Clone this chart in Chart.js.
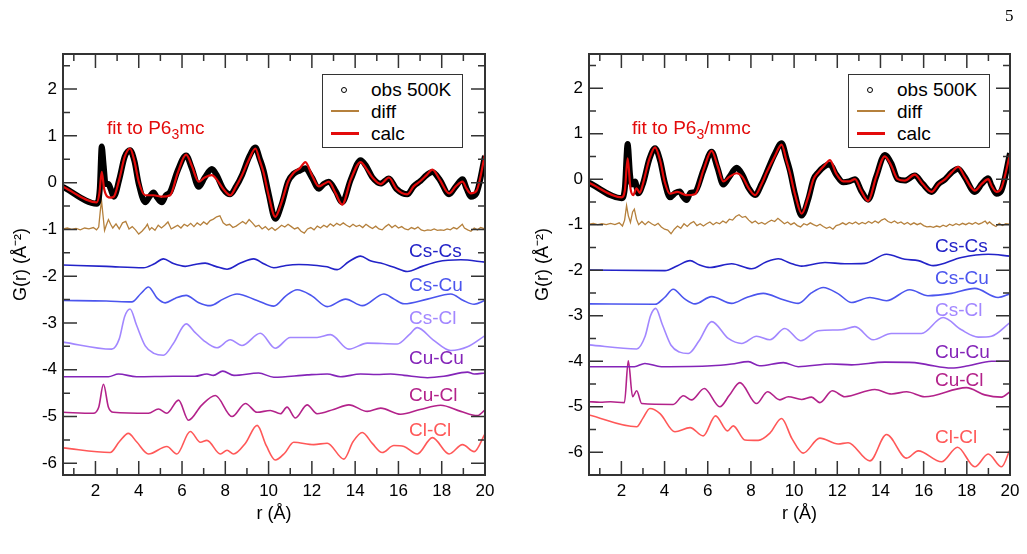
<!DOCTYPE html>
<html>
<head>
<meta charset="utf-8">
<script src="https://cdn.jsdelivr.net/npm/chart.js@4.4.1/dist/chart.umd.min.js"></script>
<style>
  body { margin: 0; background: #fff; width: 1027px; height: 554px; position: relative; overflow: hidden;
         font-family: "Liberation Sans", Arial, Helvetica, sans-serif; }
  canvas { position: absolute; top: 0; }
  .lbl { position: absolute; font-size: 19px; line-height: 20px; white-space: nowrap; }
  .legend { position: absolute; top: 74px; height: 74px; border: 1.5px solid #333; box-sizing: border-box; background: #fff; }
  .mark { position: absolute; }
  sub { font-size: 14px; vertical-align: -5px; line-height: 0; }
  .page { position: absolute; left: 1005px; top: 6px; font-family: "Liberation Serif", "DejaVu Serif", serif; font-size: 17px; }
</style>
</head>
<body>
<canvas id="left" width="513" height="554" style="left:0"></canvas>
<canvas id="right" width="514" height="554" style="left:513px"></canvas>
<div class="page">5</div>

<script>
// r (Å), G(r) pairs

// ---- left panel: fit to P6_3mc ----
const leftObs = [[0.5,-0.09],[2.06,-0.45],[2.2,-0.13],[2.29,0.77],[2.37,0.41],[2.47,-0.03],[2.6,-0.03],[2.7,-0.13],[2.85,-0.30],[3.1,0.07],[3.35,0.55],[3.6,0.69],[3.8,0.46],[4.0,-0.03],[4.3,-0.42],[4.5,-0.30],[4.68,-0.21],[4.85,-0.32],[5.07,-0.42],[5.25,-0.27],[5.45,-0.20],[5.8,0.26],[6.19,0.58],[6.45,0.31],[6.77,-0.09],[7.05,0.11],[7.38,0.29],[7.6,0.16],[7.9,-0.13],[8.23,-0.25],[8.5,-0.08],[8.77,0.16],[9.1,0.55],[9.39,0.75],[9.6,0.50],[9.77,0.26],[10.0,-0.23],[10.31,-0.77],[10.6,-0.47],[10.9,0.02],[11.16,0.19],[11.45,0.26],[11.7,0.31],[12.0,0.11],[12.32,-0.13],[12.55,-0.03],[12.78,0.02],[13.1,-0.18],[13.4,-0.42],[13.8,0.07],[14.25,0.48],[14.5,0.36],[14.8,0.11],[15.18,-0.02],[15.56,0.09],[15.9,-0.13],[16.41,-0.25],[16.7,-0.08],[17.03,0.04],[17.3,0.16],[17.57,0.23],[17.9,0.07],[18.34,-0.25],[18.65,-0.08],[18.96,0.07],[19.15,-0.13],[19.34,-0.30],[19.6,-0.23],[20.0,0.57]];
const leftCalc = [[0.5,-0.09],[2.06,-0.42],[2.18,-0.23],[2.29,0.23],[2.4,-0.13],[2.55,-0.30],[2.7,-0.32],[2.85,-0.30],[3.1,0.07],[3.35,0.55],[3.6,0.73],[3.8,0.46],[4.0,0.02],[4.3,-0.27],[4.68,-0.27],[5.07,-0.30],[5.45,-0.27],[5.8,0.21],[6.19,0.60],[6.45,0.36],[6.77,0.02],[7.05,0.11],[7.38,0.16],[7.6,0.07],[7.9,-0.13],[8.23,-0.27],[8.5,-0.08],[8.77,0.16],[9.1,0.50],[9.39,0.73],[9.6,0.46],[9.77,0.21],[10.0,-0.27],[10.31,-0.73],[10.6,-0.42],[10.9,0.02],[11.16,0.21],[11.45,0.31],[11.7,0.44],[12.0,0.16],[12.32,-0.08],[12.55,-0.03],[12.78,0.02],[13.1,-0.23],[13.4,-0.47],[13.8,0.07],[14.25,0.44],[14.5,0.31],[14.8,0.11],[15.18,-0.03],[15.56,0.11],[15.9,-0.13],[16.41,-0.25],[16.7,-0.08],[17.03,0.04],[17.3,0.16],[17.57,0.28],[17.9,0.07],[18.34,-0.23],[18.65,-0.08],[18.96,0.02],[19.15,-0.13],[19.34,-0.23],[19.6,-0.18],[20.0,0.60]];
const leftDiff = [[0.5,-0.99],[0.7,-0.97],[0.9,-1.0],[1.1,-0.98],[1.3,-1.01],[1.5,-0.97],[1.7,-0.99],[1.9,-0.96],[2.05,-1.01],[2.15,-0.95],[2.22,-0.62],[2.28,-0.38],[2.34,-0.66],[2.42,-1.02],[2.5,-0.91],[2.6,-0.79],[2.7,-0.89],[2.8,-0.97],[2.95,-0.88],[3.1,-0.99],[3.25,-0.86],[3.4,-0.83],[3.55,-0.99],[3.7,-0.94],[3.85,-1.01],[4.0,-1.1],[4.15,-1.04],[4.3,-0.96],[4.4,-0.89],[4.5,-1.01],[4.6,-0.96],[4.75,-1.02],[4.9,-0.91],[5.05,-0.97],[5.2,-0.91],[5.35,-0.84],[5.5,-0.99],[5.65,-0.95],[5.8,-0.91],[5.95,-0.97],[6.1,-0.89],[6.25,-0.93],[6.4,-0.87],[6.55,-0.94],[6.7,-0.86],[6.85,-0.91],[7.0,-0.84],[7.15,-0.89],[7.3,-0.81],[7.45,-0.78],[7.6,-0.73],[7.75,-0.71],[7.9,-0.86],[8.05,-0.91],[8.2,-0.89],[8.35,-0.96],[8.5,-0.93],[8.65,-0.88],[8.8,-0.83],[8.95,-0.88],[9.1,-0.79],[9.25,-0.86],[9.4,-0.94],[9.55,-0.91],[9.7,-0.99],[9.85,-0.94],[10.0,-1.01],[10.15,-0.96],[10.3,-1.02],[10.45,-0.97],[10.6,-0.91],[10.75,-0.95],[10.9,-0.89],[11.05,-0.94],[11.2,-0.99],[11.35,-0.96],[11.5,-1.04],[11.65,-1.08],[11.8,-0.99],[11.95,-0.96],[12.1,-1.01],[12.25,-0.93],[12.4,-0.97],[12.55,-0.91],[12.7,-0.95],[12.85,-0.88],[13.0,-0.93],[13.15,-0.87],[13.3,-0.91],[13.45,-0.86],[13.6,-0.91],[13.75,-0.95],[13.9,-0.89],[14.05,-0.94],[14.2,-0.91],[14.35,-0.96],[14.5,-0.89],[14.65,-0.94],[14.8,-0.98],[14.95,-0.93],[15.1,-0.99],[15.25,-1.01],[15.4,-0.94],[15.55,-0.89],[15.7,-0.96],[15.85,-0.91],[16.0,-0.97],[16.15,-0.94],[16.3,-0.99],[16.45,-1.01],[16.6,-0.96],[16.75,-0.99],[16.9,-0.95],[17.05,-1.01],[17.2,-1.03],[17.35,-1.01],[17.5,-1.02],[17.65,-0.99],[17.8,-1.02],[17.95,-1.01],[18.1,-1.02],[18.25,-0.99],[18.4,-1.01],[18.55,-0.96],[18.7,-0.99],[18.85,-0.93],[18.95,-0.89],[19.05,-0.97],[19.2,-1.01],[19.35,-1.04],[19.5,-0.97],[19.65,-1.01],[19.8,-0.96],[20.0,-0.99]];
const leftCsCs = [[0.5,-1.76],[2.5,-1.79],[4.22,-1.82],[4.7,-1.74],[5.14,-1.63],[5.6,-1.73],[6.15,-1.79],[6.6,-1.75],[7.07,-1.72],[7.55,-1.79],[8.08,-1.85],[8.7,-1.72],[9.31,-1.63],[9.8,-1.74],[10.24,-1.82],[10.8,-1.77],[11.4,-1.75],[12.24,-1.77],[12.7,-1.80],[13.17,-1.86],[13.7,-1.69],[14.25,-1.57],[14.7,-1.67],[15.18,-1.72],[15.8,-1.81],[16.41,-1.90],[17.1,-1.79],[17.8,-1.69],[18.88,-1.65],[20.0,-1.70]];
const leftCsCu = [[0.5,-2.52],[2.5,-2.53],[3.68,-2.55],[4.1,-2.37],[4.45,-2.23],[4.85,-2.47],[5.22,-2.57],[5.7,-2.47],[6.19,-2.41],[6.75,-2.56],[7.3,-2.63],[7.9,-2.49],[8.54,-2.38],[9.47,-2.52],[10.24,-2.64],[10.8,-2.42],[11.32,-2.29],[12.0,-2.42],[12.71,-2.65],[13.56,-2.49],[14.33,-2.63],[15.33,-2.38],[15.8,-2.49],[16.26,-2.59],[17.34,-2.49],[18.42,-2.38],[19.0,-2.52],[19.5,-2.60],[20.0,-2.52]];
const leftCsCl = [[0.5,-3.41],[2.75,-3.56],[3.1,-3.34],[3.35,-2.86],[3.6,-2.70],[3.9,-3.05],[4.3,-3.49],[4.7,-3.65],[5.14,-3.69],[5.6,-3.44],[6.19,-3.02],[6.6,-3.20],[6.99,-3.37],[7.61,-3.53],[8.23,-3.36],[8.77,-3.48],[9.62,-3.22],[10.31,-3.54],[11.0,-3.31],[12.24,-3.31],[12.86,-3.25],[13.71,-3.56],[14.56,-3.43],[15.95,-3.45],[16.5,-3.25],[16.87,-3.10],[17.6,-3.36],[18.42,-3.59],[19.19,-3.51],[20.0,-3.27]];
const leftCuCu = [[0.5,-4.15],[2.6,-4.15],[3.06,-4.09],[3.9,-4.15],[5.6,-4.14],[6.6,-4.14],[7.15,-4.09],[7.45,-4.12],[7.88,-4.03],[8.4,-4.12],[9.54,-4.07],[10.24,-4.16],[11.78,-4.11],[12.71,-4.09],[13.33,-4.15],[14.25,-4.09],[15.0,-4.10],[15.64,-4.09],[16.26,-4.12],[17.34,-4.17],[18.1,-4.14],[19.19,-4.05],[19.5,-4.09],[20.0,-4.07]];
const leftCuCl = [[0.5,-4.91],[1.9,-4.93],[2.15,-4.80],[2.37,-4.31],[2.6,-4.80],[2.83,-4.91],[4.45,-4.93],[4.91,-4.84],[5.3,-4.93],[5.84,-4.65],[6.3,-5.08],[6.9,-4.76],[7.54,-4.55],[8.31,-5.00],[8.93,-4.72],[9.47,-4.91],[10.08,-4.87],[10.55,-4.94],[10.85,-4.80],[11.24,-5.03],[11.78,-4.75],[12.24,-4.94],[13.0,-4.85],[13.71,-4.75],[14.56,-4.89],[15.18,-4.82],[16.1,-4.95],[17.0,-4.85],[17.95,-4.76],[18.88,-4.89],[19.65,-4.98],[20.0,-4.86]];
const leftClCl = [[0.5,-5.67],[2.68,-5.77],[3.1,-5.54],[3.52,-5.36],[3.9,-5.54],[4.45,-5.80],[5.3,-5.64],[5.76,-5.80],[6.38,-5.32],[6.85,-5.55],[7.15,-5.51],[7.77,-5.80],[8.08,-5.72],[8.38,-5.80],[8.93,-5.57],[9.47,-5.19],[9.9,-5.63],[10.31,-5.93],[10.75,-5.78],[11.16,-5.55],[12.09,-5.60],[12.71,-5.57],[13.48,-5.91],[13.9,-5.54],[14.33,-5.34],[14.8,-5.58],[15.25,-5.77],[15.79,-5.62],[16.26,-5.64],[16.87,-5.80],[17.57,-5.45],[18.34,-5.80],[18.96,-5.60],[19.5,-5.75],[20.0,-5.37]];

// ---- right panel: fit to P6_3/mmc ----
const rightObs = [[0.5,-0.08],[2.01,-0.42],[2.16,-0.2],[2.29,0.77],[2.4,0.1],[2.48,-0.12],[2.63,-0.05],[2.78,-0.31],[3.0,-0.1],[3.3,0.45],[3.56,0.68],[3.8,0.4],[4.0,-0.05],[4.25,-0.4],[4.5,-0.3],[4.71,-0.27],[4.85,-0.38],[5.02,-0.46],[5.2,-0.3],[5.41,-0.28],[5.8,0.2],[6.18,0.6],[6.45,0.25],[6.72,-0.12],[7.0,0.05],[7.34,0.25],[7.6,0.1],[7.9,-0.2],[8.19,-0.35],[8.5,-0.1],[8.73,0.15],[9.1,0.55],[9.42,0.79],[9.65,0.45],[9.8,0.2],[10.05,-0.35],[10.35,-0.8],[10.65,-0.45],[10.9,0.0],[11.12,0.15],[11.4,0.28],[11.66,0.32],[11.95,0.1],[12.28,-0.07],[12.55,-0.05],[12.82,0.0],[13.1,-0.25],[13.43,-0.45],[13.8,0.05],[14.2,0.53],[14.5,0.35],[14.8,0.0],[15.13,-0.03],[15.59,0.08],[15.95,-0.1],[16.37,-0.28],[16.7,-0.1],[17.0,0.0],[17.3,0.15],[17.6,0.23],[17.9,0.05],[18.37,-0.28],[18.7,-0.1],[18.99,0.02],[19.15,-0.15],[19.37,-0.32],[19.6,-0.25],[20.0,0.57]];
const rightCalc = [[0.5,-0.08],[2.01,-0.4],[2.16,-0.25],[2.29,0.46],[2.42,-0.2],[2.55,-0.35],[2.7,-0.2],[2.85,-0.3],[3.0,-0.1],[3.3,0.45],[3.56,0.7],[3.8,0.4],[4.0,-0.05],[4.25,-0.32],[4.6,-0.28],[5.0,-0.35],[5.41,-0.33],[5.8,0.2],[6.18,0.62],[6.45,0.3],[6.72,-0.05],[7.0,0.05],[7.34,0.13],[7.6,0.05],[7.9,-0.2],[8.19,-0.35],[8.5,-0.1],[8.73,0.15],[9.1,0.5],[9.42,0.76],[9.65,0.4],[9.8,0.15],[10.05,-0.35],[10.35,-0.76],[10.65,-0.4],[10.9,0.0],[11.12,0.15],[11.4,0.3],[11.66,0.42],[11.95,0.12],[12.28,-0.05],[12.55,-0.05],[12.82,0.0],[13.1,-0.25],[13.43,-0.48],[13.8,0.05],[14.2,0.5],[14.5,0.3],[14.8,0.0],[15.13,-0.03],[15.59,0.1],[15.95,-0.1],[16.37,-0.28],[16.7,-0.1],[17.0,0.0],[17.3,0.15],[17.6,0.27],[17.9,0.05],[18.37,-0.25],[18.7,-0.1],[18.99,0.0],[19.15,-0.15],[19.37,-0.28],[19.6,-0.2],[20.0,0.55]];
const rightDiff = [[0.5,-0.99],[0.7,-0.97],[0.9,-1.0],[1.1,-0.98],[1.3,-1.0],[1.5,-0.97],[1.7,-1.0],[1.9,-0.96],[2.05,-1.03],[2.15,-0.9],[2.24,-0.58],[2.32,-0.8],[2.42,-0.95],[2.52,-0.72],[2.6,-0.66],[2.7,-0.88],[2.8,-1.0],[2.95,-0.93],[3.1,-1.0],[3.25,-0.93],[3.4,-0.98],[3.55,-1.02],[3.7,-0.97],[3.85,-1.05],[4.0,-1.1],[4.15,-1.12],[4.3,-1.2],[4.45,-1.1],[4.6,-1.03],[4.75,-1.08],[4.9,-0.98],[5.05,-1.04],[5.2,-0.97],[5.35,-0.93],[5.5,-1.02],[5.65,-0.98],[5.8,-1.03],[5.95,-0.98],[6.1,-0.94],[6.25,-1.0],[6.4,-0.95],[6.55,-0.98],[6.7,-0.92],[6.85,-0.96],[7.0,-0.88],[7.15,-0.9],[7.3,-0.82],[7.45,-0.78],[7.6,-0.84],[7.75,-0.82],[7.9,-0.9],[8.05,-0.96],[8.2,-0.92],[8.35,-0.98],[8.5,-0.95],[8.65,-0.99],[8.8,-0.94],[8.95,-0.9],[9.1,-0.93],[9.25,-0.86],[9.4,-0.92],[9.55,-0.98],[9.7,-0.94],[9.85,-1.0],[10.0,-0.96],[10.15,-1.02],[10.3,-1.05],[10.45,-0.98],[10.6,-1.01],[10.75,-0.96],[10.9,-1.0],[11.05,-1.03],[11.2,-0.99],[11.35,-1.04],[11.5,-1.08],[11.65,-1.05],[11.8,-1.1],[11.95,-1.02],[12.1,-1.0],[12.25,-0.96],[12.4,-1.0],[12.55,-0.95],[12.7,-0.98],[12.85,-0.94],[13.0,-0.99],[13.15,-0.95],[13.3,-0.98],[13.45,-0.93],[13.6,-0.97],[13.75,-0.92],[13.9,-0.96],[14.05,-0.9],[14.2,-0.87],[14.35,-0.93],[14.5,-0.96],[14.65,-0.92],[14.8,-0.97],[14.95,-0.94],[15.1,-0.99],[15.25,-0.95],[15.4,-1.0],[15.55,-0.96],[15.7,-1.0],[15.85,-0.97],[16.0,-1.02],[16.15,-1.05],[16.3,-1.04],[16.45,-1.06],[16.6,-1.03],[16.75,-1.05],[16.9,-1.01],[17.05,-1.04],[17.2,-0.99],[17.35,-1.02],[17.5,-0.98],[17.65,-1.01],[17.8,-0.97],[17.95,-1.0],[18.1,-0.96],[18.25,-0.99],[18.4,-0.95],[18.55,-0.99],[18.7,-0.96],[18.85,-0.92],[18.95,-0.98],[19.05,-0.94],[19.2,-1.0],[19.35,-1.04],[19.5,-0.97],[19.65,-1.02],[19.8,-0.98],[20.0,-0.99]];
const rightCsCs = [[0.5,-1.995],[4.02,-2.01],[4.6,-1.9],[5.18,-1.79],[5.6,-1.88],[6.1,-1.94],[7.11,-1.86],[8.03,-1.97],[8.7,-1.82],[9.27,-1.75],[9.8,-1.84],[10.35,-1.91],[11.43,-1.83],[12.35,-1.86],[13.28,-1.85],[14.28,-1.65],[15.13,-1.76],[15.75,-1.79],[16.44,-1.9],[17.75,-1.72],[18.99,-1.65],[20.0,-1.69]];
const rightCsCu = [[0.5,-2.74],[3.56,-2.75],[4.0,-2.6],[4.4,-2.42],[4.9,-2.62],[5.41,-2.74],[6.18,-2.58],[7.11,-2.73],[7.8,-2.6],[8.57,-2.51],[9.5,-2.65],[10.19,-2.73],[10.8,-2.5],[11.35,-2.38],[12.05,-2.52],[12.66,-2.71],[13.51,-2.6],[14.28,-2.67],[15.36,-2.43],[16.2,-2.56],[17.29,-2.51],[18.37,-2.4],[19.45,-2.6],[20.0,-2.52]];
const rightCsCl = [[0.5,-3.64],[2.71,-3.73],[3.1,-3.45],[3.35,-3.0],[3.59,-2.84],[3.9,-3.2],[4.3,-3.65],[4.7,-3.8],[5.1,-3.83],[5.6,-3.55],[6.18,-3.13],[6.95,-3.5],[7.57,-3.61],[8.26,-3.45],[8.88,-3.53],[9.57,-3.28],[10.31,-3.55],[11.12,-3.33],[12.2,-3.31],[12.82,-3.24],[13.66,-3.53],[14.5,-3.39],[15.9,-3.39],[16.9,-3.04],[17.75,-3.31],[18.53,-3.47],[19.14,-3.45],[20.0,-3.15]];
const rightCuCu = [[0.5,-4.12],[2.6,-4.12],[3.09,-4.05],[3.85,-4.12],[6.18,-4.1],[7.11,-4.06],[7.88,-4.01],[8.4,-4.1],[9.5,-4.03],[10.19,-4.12],[11.73,-4.06],[12.66,-4.08],[14.2,-4.02],[15.59,-4.03],[16.2,-4.08],[17.29,-4.15],[18.07,-4.1],[19.14,-4.0],[20.0,-4.0]];
const rightCuCl = [[0.5,-4.89],[1.0,-4.9],[1.5,-4.89],[2.14,-4.91],[2.32,-3.99],[2.52,-4.78],[2.71,-4.65],[2.94,-4.93],[4.4,-4.95],[4.87,-4.76],[5.25,-4.85],[5.84,-4.6],[6.56,-5.0],[7.0,-4.75],[7.49,-4.47],[8.26,-4.93],[8.77,-4.67],[9.34,-4.85],[9.73,-4.78],[10.35,-4.84],[10.81,-4.79],[11.19,-4.91],[11.77,-4.65],[12.35,-4.78],[13.74,-4.62],[14.51,-4.72],[15.21,-4.67],[16.05,-4.78],[17.98,-4.58],[18.83,-4.74],[19.61,-4.79],[20.0,-4.67]];
const rightClCl = [[0.5,-5.18],[2.71,-5.44],[3.0,-5.25],[3.32,-5.04],[3.79,-5.15],[4.48,-5.55],[5.18,-5.46],[5.79,-5.64],[6.36,-5.2],[6.92,-5.53],[7.18,-5.42],[7.72,-5.73],[8.34,-5.74],[8.88,-5.58],[9.42,-5.26],[9.9,-5.7],[10.42,-6.02],[11.19,-5.69],[12.04,-5.82],[12.5,-5.79],[13.51,-6.19],[14.28,-5.61],[15.21,-6.13],[15.75,-5.97],[16.83,-6.21],[17.57,-5.89],[18.37,-6.32],[18.99,-6.04],[19.61,-6.32],[20.0,-5.94]];

// axis ticks
const xTickLabels = [2, 4, 6, 8, 10, 12, 14, 16, 18, 20];
const yTickLabels = [-6, -5, -4, -3, -2, -1, 0, 1, 2];
const partialNames = ['Cs-Cs', 'Cs-Cu', 'Cs-Cl', 'Cu-Cu', 'Cu-Cl', 'Cl-Cl'];
const partialColors = ['#2323c8', '#4b55ee', '#a287ff', '#8424b8', '#b3228a', '#ff5858'];
const diffColor = '#b5803c';
const calcColor = '#e30b0b';

Chart.defaults.font.family = '"Liberation Sans", Arial, Helvetica, sans-serif';
Chart.defaults.color = '#000';

// Grace style frame with inward major/minor ticks on all four sides
const frameTicks = {
  id: 'frameTicks',
  afterDatasetsDraw(chart) {
    const { ctx, chartArea: a, scales: { x, y } } = chart;
    ctx.save();
    ctx.strokeStyle = '#333';
    ctx.lineWidth = 1.5;
    ctx.beginPath();
    for (let v = 1; v < 20; v++) {
      const px = x.getPixelForValue(v);
      const len = v % 2 === 0 ? 14 : 7;
      ctx.moveTo(px, a.bottom); ctx.lineTo(px, a.bottom - len);
      ctx.moveTo(px, a.top); ctx.lineTo(px, a.top + len);
    }
    for (let v = -6; v <= 2.5; v += 0.5) {
      const py = y.getPixelForValue(v);
      if (py >= a.bottom) continue;
      const len = Number.isInteger(v) ? 14 : 7;
      ctx.moveTo(a.left, py); ctx.lineTo(a.left + len, py);
      ctx.moveTo(a.right, py); ctx.lineTo(a.right - len, py);
    }
    ctx.stroke();
    ctx.lineWidth = 2;
    ctx.strokeRect(a.left, a.top, a.right - a.left, a.bottom - a.top);
    ctx.restore();
  }
};

function makePanel(id, obs, calc, diff, partials, yMin, axisWidth, padRight, titlePad) {
  const datasets = [
    { data: calc, borderColor: calcColor, borderWidth: 2.2, cubicInterpolationMode: 'monotone' },
    { data: obs, borderColor: '#000', borderWidth: 6, cubicInterpolationMode: 'monotone' },
    { data: diff, borderColor: diffColor, borderWidth: 1.3, tension: 0 }
  ];
  partials.forEach((p, i) => {
    datasets.push({ data: p, borderColor: partialColors[i], borderWidth: 1.6, cubicInterpolationMode: 'monotone' });
  });
  datasets.forEach(d => { d.pointRadius = 0; d.fill = false; });

  return new Chart(document.getElementById(id), {
    type: 'line',
    data: { datasets },
    options: {
      responsive: false,
      animation: false,
      devicePixelRatio: 1,
      layout: { padding: { top: 54, right: padRight, left: 0, bottom: 0 } },
      plugins: { legend: { display: false }, tooltip: { enabled: false } },
      scales: {
        x: {
          type: 'linear', min: 0.5, max: 20,
          afterBuildTicks: s => { s.ticks = xTickLabels.map(v => ({ value: v })); },
          afterFit: s => { s.height = 79; },
          grid: { display: false, drawTicks: false },
          border: { display: false },
          ticks: { font: { size: 17 }, padding: 6, maxRotation: 0, autoSkip: false },
          title: { display: true, text: 'r (Å)', font: { size: 18 }, padding: { top: 0, bottom: 29 } }
        },
        y: {
          type: 'linear', min: yMin, max: 2.75,
          afterBuildTicks: s => { s.ticks = yTickLabels.map(v => ({ value: v })); },
          afterFit: s => { s.width = axisWidth; },
          grid: { display: false, drawTicks: false },
          border: { display: false },
          ticks: { font: { size: 17 }, padding: 6, autoSkip: false },
          title: { display: true, text: 'G(r) (Å⁻²)', font: { size: 18 }, padding: { top: titlePad, bottom: 0 } }
        }
      }
    },
    plugins: [frameTicks]
  });
}

makePanel('left', leftObs, leftCalc, leftDiff,
  [leftCsCs, leftCsCu, leftCsCl, leftCuCu, leftCuCl, leftClCl], -6.25, 63, 28, 10);
makePanel('right', rightObs, rightCalc, rightDiff,
  [rightCsCs, rightCsCu, rightCsCl, rightCuCu, rightCuCl, rightClCl], -6.5, 76, 17, 19);

// text annotations and legends
function addText(html, color, left, top) {
  const el = document.createElement('div');
  el.className = 'lbl';
  el.style.color = color;
  el.style.left = left + 'px';
  el.style.top = top + 'px';
  el.innerHTML = html;
  document.body.appendChild(el);
}

addText('fit to P6<sub>3</sub>mc', calcColor, 107, 118);
addText('fit to P6<sub>3</sub>/mmc', calcColor, 632, 118);

const leftLabelTops = [241, 275, 308, 348, 385, 420];
const rightLabelTops = [236, 268, 300, 342, 370, 427];
partialNames.forEach((n, i) => {
  addText(n, partialColors[i], 409, leftLabelTops[i]);
  addText(n, partialColors[i], 935, rightLabelTops[i]);
});

function addLegend(boxLeft, boxWidth) {
  const box = document.createElement('div');
  box.className = 'legend';
  box.style.left = boxLeft + 'px';
  box.style.width = boxWidth + 'px';
  document.body.appendChild(box);

  const circ = document.createElement('div');
  circ.className = 'mark';
  Object.assign(circ.style, { left: (boxLeft + 19) + 'px', top: '87px', width: '4px', height: '4px',
    border: '1.5px solid #000', borderRadius: '50%' });
  document.body.appendChild(circ);

  [[diffColor, 111, 1.5], [calcColor, 133, 3]].forEach(([c, y, w]) => {
    const ln = document.createElement('div');
    ln.className = 'mark';
    Object.assign(ln.style, { left: (boxLeft + 9) + 'px', top: (y - w / 2) + 'px', width: '28px', height: w + 'px', background: c });
    document.body.appendChild(ln);
  });

  addText('obs 500K', '#000', boxLeft + 49, 80);
  addText('diff', '#000', boxLeft + 49, 102);
  addText('calc', '#000', boxLeft + 49, 124);
}
addLegend(322, 141);
addLegend(848, 142);
</script>
</body>
</html>
